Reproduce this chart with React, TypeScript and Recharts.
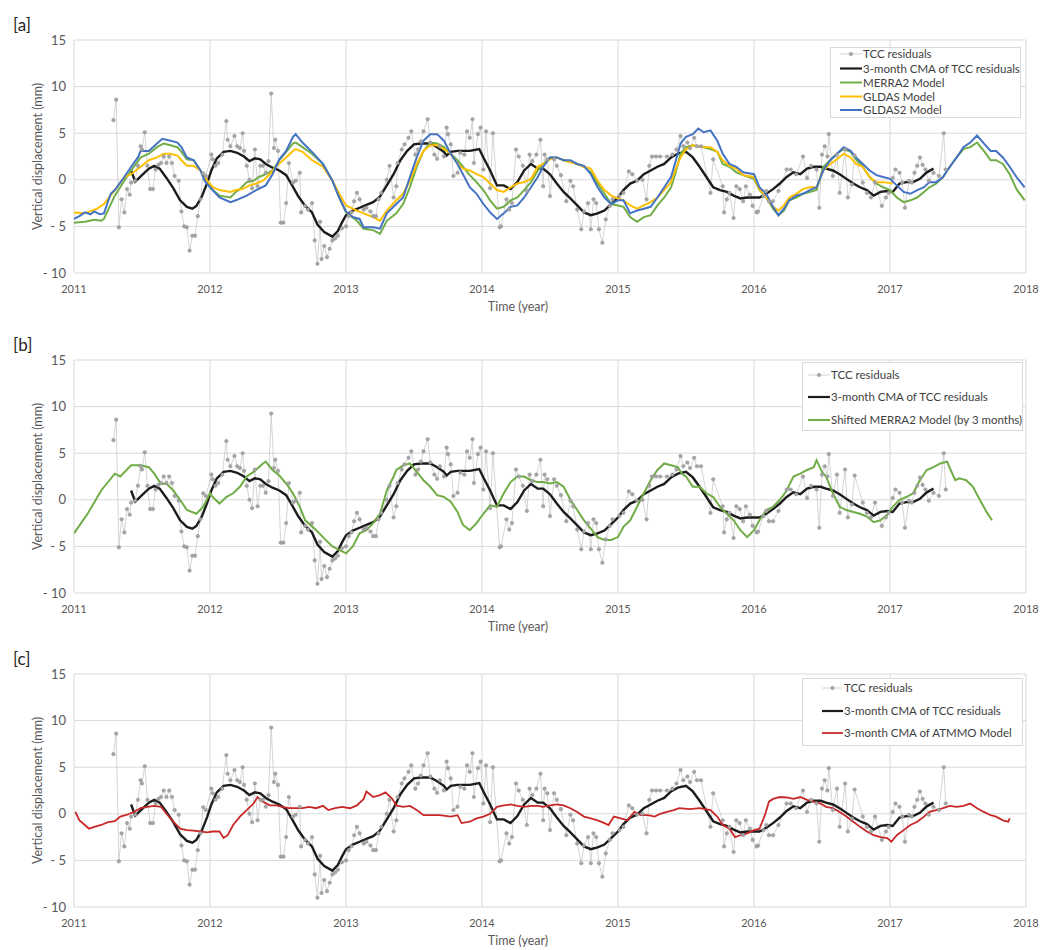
import React from "react";
import { CartesianGrid, Line, LineChart, XAxis, YAxis } from "recharts";

type Pt = [number, number];

const yearTicks = [2011, 2012, 2013, 2014, 2015, 2016, 2017, 2018];
const valueTicks = [-10, -5, 0, 5, 10, 15];

// weekly-ish TCC residuals (mm)
const tccResiduals: Pt[] = [
  [2011.29, 6.4], [2011.31, 8.6], [2011.33, -5.1], [2011.35, -2.1], [2011.37, -3.5], [2011.39, -1.0],
  [2011.41, -1.6], [2011.42, -0.3], [2011.45, -0.1], [2011.47, 1.5], [2011.49, 3.6], [2011.5, 3.25],
  [2011.52, 5.1], [2011.54, 1.5], [2011.56, -1.0], [2011.58, -1.0], [2011.6, 1.1], [2011.62, 1.6],
  [2011.64, 1.8], [2011.66, 2.5], [2011.68, 1.8], [2011.7, 2.5], [2011.72, 1.8], [2011.74, 0.4],
  [2011.77, -0.1], [2011.79, -3.4], [2011.81, -5.0], [2011.83, -5.1], [2011.85, -7.6], [2011.87, -6.0],
  [2011.89, -6.0], [2011.91, -3.9], [2011.93, -2.1], [2011.95, 0.7], [2011.97, 0.4], [2012.01, 2.7],
  [2012.02, 2.2], [2012.04, 1.5], [2012.06, 1.8], [2012.09, 2.7], [2012.12, 6.3], [2012.13, 4.3],
  [2012.15, 3.6], [2012.18, 4.7], [2012.2, 3.6], [2012.22, 3.4], [2012.24, 5.0], [2012.25, 3.1],
  [2012.27, 1.5], [2012.29, 0.0], [2012.31, -0.9], [2012.33, 3.25], [2012.35, -0.7], [2012.37, 1.5],
  [2012.39, 1.5], [2012.41, 0.75], [2012.43, 2.0], [2012.45, 9.25], [2012.47, 3.4], [2012.48, 4.3],
  [2012.5, 3.1], [2012.52, -4.6], [2012.54, -4.6], [2012.56, -2.5], [2012.58, 1.8], [2012.61, -0.3],
  [2012.63, -0.1], [2012.66, 0.75], [2012.67, -3.5], [2012.7, -2.8], [2012.72, -3.2], [2012.75, -2.5],
  [2012.77, -6.5], [2012.79, -9.0], [2012.81, -4.5], [2012.82, -8.5], [2012.84, -7.1], [2012.86, -8.3],
  [2012.88, -7.4], [2012.9, -6.5], [2012.92, -6.3], [2012.94, -6.0], [2012.97, -5.2], [2013.0, -5.0],
  [2013.02, -3.9], [2013.04, -3.5], [2013.06, -2.3], [2013.08, -1.4], [2013.1, -2.1], [2013.13, -3.2],
  [2013.15, -3.0], [2013.18, -3.4], [2013.2, -3.9], [2013.22, -3.9], [2013.24, -2.1], [2013.26, -1.4],
  [2013.3, 0.0], [2013.32, 1.5], [2013.35, -1.9], [2013.37, -0.7], [2013.38, 1.8], [2013.41, 3.25],
  [2013.43, 3.8], [2013.46, 4.5], [2013.48, 5.2], [2013.51, 2.7], [2013.53, 3.25], [2013.55, 4.1],
  [2013.57, 5.2], [2013.6, 6.5], [2013.62, 4.0], [2013.65, 2.7], [2013.67, 2.25], [2013.69, 3.6],
  [2013.72, 2.5], [2013.74, 5.6], [2013.75, 4.9], [2013.77, 3.8], [2013.79, 0.4], [2013.82, 0.75],
  [2013.84, 2.9], [2013.87, 2.7], [2013.89, 5.2], [2013.91, 4.5], [2013.93, 6.5], [2013.94, 1.8],
  [2013.97, 4.9], [2013.99, 5.6], [2014.01, 1.1], [2014.03, 5.2], [2014.06, -0.9], [2014.08, 5.0],
  [2014.13, -5.1], [2014.14, -5.0], [2014.18, -2.1], [2014.2, -3.2], [2014.22, -2.5], [2014.25, 3.25],
  [2014.27, 2.5], [2014.3, 1.5], [2014.33, -1.2], [2014.35, 2.7], [2014.37, 2.0], [2014.4, 2.7],
  [2014.43, 4.3], [2014.45, -0.7], [2014.46, 2.7], [2014.48, 2.2], [2014.5, -1.75], [2014.53, 2.2],
  [2014.55, 1.5], [2014.58, 0.5], [2014.62, -2.3], [2014.65, -0.1], [2014.67, -0.7], [2014.7, -3.2],
  [2014.73, -5.3], [2014.75, -3.4], [2014.78, -2.5], [2014.8, -5.3], [2014.82, -2.1], [2014.84, -2.5],
  [2014.86, -5.3], [2014.885, -6.75], [2014.91, -4.25], [2014.94, -2.8], [2014.96, -2.1], [2015.01, -1.75],
  [2015.04, -1.4], [2015.08, 0.9], [2015.105, 0.6], [2015.14, -0.1], [2015.18, 0.0], [2015.21, -2.1],
  [2015.23, 1.5], [2015.25, 2.5], [2015.28, 2.5], [2015.31, 2.5], [2015.36, 2.5], [2015.4, 2.7],
  [2015.43, 3.25], [2015.46, 4.7], [2015.48, 3.6], [2015.51, 4.0], [2015.53, 3.4], [2015.56, 4.5],
  [2015.58, 3.6], [2015.61, 3.6], [2015.68, -1.4], [2015.7, 2.2], [2015.77, -0.7], [2015.78, -3.5],
  [2015.8, -2.1], [2015.82, -1.4], [2015.85, -4.1], [2015.87, -0.7], [2015.895, -1.0], [2015.92, -2.3],
  [2015.94, -0.7], [2015.97, -1.6], [2015.99, -2.8], [2016.02, -3.5], [2016.03, -3.4], [2016.07, -1.75],
  [2016.09, -1.2], [2016.11, -2.3], [2016.14, -2.3], [2016.18, -1.2], [2016.24, 1.1], [2016.27, 1.1],
  [2016.31, 0.6], [2016.36, 2.5], [2016.39, 0.2], [2016.42, 1.5], [2016.46, 1.1], [2016.48, -3.0],
  [2016.5, 2.7], [2016.52, 3.6], [2016.54, 2.5], [2016.55, 4.9], [2016.58, 0.4], [2016.61, 2.7],
  [2016.63, -1.4], [2016.67, 3.25], [2016.69, -1.9], [2016.72, -0.5], [2016.74, 2.6], [2016.8, -0.3],
  [2016.83, -1.4], [2016.86, -1.9], [2016.89, -0.3], [2016.94, -2.8], [2016.97, -1.9], [2016.99, -1.4],
  [2017.02, 0.2], [2017.04, 1.1], [2017.07, 0.75], [2017.09, -0.3], [2017.11, -3.0], [2017.14, -0.1],
  [2017.16, -0.3], [2017.18, 0.75], [2017.2, 1.5], [2017.22, 2.4], [2017.24, 1.6], [2017.26, 1.1],
  [2017.285, -0.1], [2017.32, 0.75], [2017.36, 0.4], [2017.395, 5.0], [2017.41, 1.1],
];

const cmaResiduals: Pt[] = [
  [2011.42, 1.0], [2011.45, -0.2], [2011.5, 0.5], [2011.55, 1.2], [2011.59, 1.5], [2011.63, 1.2],
  [2011.68, 0.2], [2011.73, -0.9], [2011.78, -2.2], [2011.83, -2.9], [2011.87, -3.1], [2011.9, -2.8],
  [2011.94, -1.8], [2011.98, -0.3], [2012.01, 1.0], [2012.05, 2.3], [2012.1, 3.0], [2012.15, 3.1],
  [2012.2, 2.9], [2012.25, 2.5], [2012.29, 2.0], [2012.33, 2.3], [2012.37, 2.2], [2012.41, 1.7],
  [2012.46, 1.3], [2012.51, 1.0], [2012.56, 0.5], [2012.6, -0.5], [2012.65, -1.8], [2012.7, -2.8],
  [2012.75, -3.5], [2012.79, -4.8], [2012.84, -5.6], [2012.9, -6.1], [2012.94, -5.5], [2012.97, -4.6],
  [2013.0, -3.8], [2013.05, -3.3], [2013.1, -3.0], [2013.15, -2.7], [2013.2, -2.4], [2013.25, -1.8],
  [2013.3, -0.6], [2013.35, 0.6], [2013.4, 2.1], [2013.45, 3.1], [2013.5, 3.8], [2013.55, 3.9],
  [2013.62, 3.9], [2013.67, 3.5], [2013.72, 3.0], [2013.74, 2.6], [2013.77, 3.0], [2013.82, 3.1],
  [2013.86, 3.1], [2013.91, 3.1], [2013.98, 3.3], [2014.01, 2.4], [2014.06, 1.0], [2014.11, -0.6],
  [2014.16, -0.6], [2014.21, -1.0], [2014.26, -0.25], [2014.31, 1.0], [2014.36, 1.7], [2014.41, 1.2],
  [2014.45, 1.2], [2014.5, 0.6], [2014.55, -0.4], [2014.6, -1.3], [2014.65, -2.0], [2014.7, -2.75],
  [2014.75, -3.5], [2014.8, -3.8], [2014.85, -3.6], [2014.9, -3.3], [2014.95, -2.6], [2015.0, -1.9],
  [2015.04, -1.1], [2015.09, -0.4], [2015.14, -0.1], [2015.19, 0.6], [2015.24, 1.0], [2015.29, 1.4],
  [2015.34, 1.7], [2015.39, 2.4], [2015.44, 2.8], [2015.5, 3.0], [2015.55, 2.4], [2015.6, 1.4],
  [2015.65, 0.3], [2015.7, -0.8], [2015.75, -1.1], [2015.8, -1.3], [2015.85, -1.7], [2015.9, -2.0],
  [2015.95, -1.9], [2016.0, -1.9], [2016.04, -1.9], [2016.09, -1.5], [2016.14, -1.0], [2016.19, -0.4],
  [2016.24, 0.3], [2016.29, 0.8], [2016.34, 0.6], [2016.39, 1.2], [2016.44, 1.4], [2016.49, 1.4],
  [2016.53, 1.2], [2016.58, 1.0], [2016.63, 0.6], [2016.68, 0.1], [2016.73, -0.4], [2016.78, -0.8],
  [2016.83, -1.1], [2016.88, -1.7], [2016.93, -1.3], [2016.98, -1.2], [2017.02, -1.3], [2017.07, -0.4],
  [2017.12, -0.25], [2017.17, -0.25], [2017.22, 0.1], [2017.27, 0.8], [2017.32, 1.2],
];

const merra2: Pt[] = [
  [2011.0, -4.6], [2011.08, -4.5], [2011.15, -4.3], [2011.2, -4.4], [2011.22, -4.2], [2011.3, -1.7],
  [2011.37, -0.1], [2011.42, 1.0], [2011.49, 2.4], [2011.55, 2.8], [2011.61, 3.5], [2011.66, 3.9],
  [2011.71, 3.7], [2011.76, 3.5], [2011.79, 3.0], [2011.83, 2.2], [2011.88, 2.1], [2011.93, 1.0],
  [2011.98, -0.25], [2012.02, -1.1], [2012.07, -1.7], [2012.15, -1.9], [2012.19, -1.3], [2012.22, -1.0],
  [2012.27, -0.25], [2012.32, -0.1], [2012.36, 0.3], [2012.41, 0.6], [2012.46, 1.0], [2012.51, 2.1],
  [2012.56, 3.0], [2012.61, 3.9], [2012.63, 4.0], [2012.68, 3.5], [2012.75, 2.8], [2012.83, 1.7],
  [2012.9, -0.1], [2012.95, -1.9], [2013.0, -3.5], [2013.08, -4.4], [2013.13, -5.25], [2013.2, -5.4],
  [2013.25, -5.8], [2013.3, -4.4], [2013.37, -3.6], [2013.42, -2.6], [2013.47, -0.8], [2013.52, 1.4],
  [2013.57, 3.1], [2013.62, 4.0], [2013.67, 3.9], [2013.72, 3.5], [2013.77, 2.8], [2013.82, 2.1],
  [2013.86, 1.4], [2013.91, 0.5], [2013.96, -0.25], [2014.01, -1.1], [2014.06, -2.2], [2014.11, -3.1],
  [2014.16, -2.9], [2014.21, -2.2], [2014.26, -1.9], [2014.31, -1.1], [2014.36, -0.25], [2014.41, 1.0],
  [2014.45, 1.7], [2014.5, 2.4], [2014.55, 2.4], [2014.6, 2.1], [2014.65, 1.9], [2014.7, 1.7],
  [2014.75, 1.4], [2014.8, 0.8], [2014.85, -0.4], [2014.9, -1.5], [2014.95, -2.6], [2015.0, -2.75],
  [2015.04, -2.9], [2015.09, -4.0], [2015.14, -4.5], [2015.19, -4.0], [2015.24, -3.8], [2015.29, -2.75],
  [2015.34, -1.9], [2015.39, -0.8], [2015.42, 0.6], [2015.46, 2.8], [2015.5, 3.5], [2015.55, 3.7],
  [2015.63, 3.5], [2015.68, 3.3], [2015.73, 3.0], [2015.77, 1.7], [2015.82, 1.4], [2015.87, 0.8],
  [2015.92, 0.5], [2016.0, 0.1], [2016.04, -1.1], [2016.09, -1.9], [2016.14, -3.1], [2016.18, -3.8],
  [2016.22, -3.3], [2016.26, -2.2], [2016.31, -1.9], [2016.36, -1.5], [2016.41, -1.3], [2016.46, -1.1],
  [2016.51, 1.4], [2016.56, 2.1], [2016.61, 2.8], [2016.66, 3.3], [2016.71, 3.0], [2016.75, 2.2],
  [2016.8, 1.4], [2016.85, 0.3], [2016.9, -0.4], [2016.95, -0.8], [2017.0, -1.1], [2017.05, -1.9],
  [2017.1, -2.4], [2017.15, -2.2], [2017.2, -1.9], [2017.25, -1.3], [2017.29, -0.8], [2017.34, -0.4],
  [2017.39, 0.3], [2017.44, 1.4], [2017.49, 2.4], [2017.54, 3.3], [2017.59, 3.5], [2017.64, 4.0],
  [2017.69, 3.1], [2017.74, 2.1], [2017.78, 2.1], [2017.83, 1.7], [2017.88, 0.6], [2017.93, -1.0],
  [2017.99, -2.2],
];

const gldas: Pt[] = [
  [2011.0, -3.5], [2011.08, -3.6], [2011.17, -3.1], [2011.22, -2.6], [2011.3, -1.1], [2011.37, 0.3],
  [2011.42, 0.6], [2011.49, 1.4], [2011.55, 2.1], [2011.61, 2.4], [2011.66, 2.8], [2011.71, 2.8],
  [2011.76, 2.6], [2011.79, 2.1], [2011.83, 1.5], [2011.88, 1.5], [2011.93, 1.0], [2011.98, -0.1],
  [2012.02, -0.8], [2012.07, -1.1], [2012.15, -1.3], [2012.19, -1.1], [2012.24, -1.0], [2012.29, -0.6],
  [2012.34, -0.4], [2012.39, -0.1], [2012.44, 0.6], [2012.49, 1.5], [2012.56, 2.4], [2012.61, 3.1],
  [2012.63, 3.3], [2012.68, 3.0], [2012.75, 2.1], [2012.83, 1.4], [2012.9, -0.1], [2012.95, -1.5],
  [2013.0, -2.75], [2013.08, -3.3], [2013.13, -3.6], [2013.2, -4.0], [2013.25, -4.4], [2013.3, -3.3],
  [2013.37, -2.2], [2013.42, -1.5], [2013.47, -0.1], [2013.52, 1.7], [2013.57, 3.1], [2013.62, 3.7],
  [2013.67, 3.7], [2013.72, 3.3], [2013.77, 2.8], [2013.82, 1.7], [2013.86, 1.2], [2013.91, 1.0],
  [2013.96, 0.6], [2014.01, 0.3], [2014.06, -0.4], [2014.11, -1.1], [2014.16, -1.3], [2014.21, -0.8],
  [2014.26, -0.4], [2014.31, -0.25], [2014.36, 0.1], [2014.41, 1.4], [2014.45, 1.7], [2014.5, 2.2],
  [2014.55, 2.4], [2014.6, 2.1], [2014.65, 1.9], [2014.7, 1.7], [2014.75, 1.4], [2014.8, 1.2],
  [2014.85, -0.1], [2014.9, -1.1], [2014.95, -1.7], [2015.0, -2.0], [2015.04, -2.2], [2015.09, -2.75],
  [2015.14, -3.1], [2015.19, -2.75], [2015.24, -2.4], [2015.29, -1.9], [2015.34, -1.1], [2015.39, -0.25],
  [2015.42, 1.0], [2015.46, 2.4], [2015.5, 3.3], [2015.55, 3.7], [2015.63, 3.5], [2015.68, 3.5],
  [2015.73, 3.0], [2015.77, 2.1], [2015.82, 1.5], [2015.87, 1.2], [2015.92, 0.5], [2016.0, 0.3],
  [2016.04, -1.0], [2016.09, -1.9], [2016.14, -2.9], [2016.18, -3.3], [2016.22, -2.75], [2016.26, -1.9],
  [2016.31, -1.5], [2016.36, -1.0], [2016.41, -0.8], [2016.46, -0.8], [2016.51, 1.0], [2016.56, 1.7],
  [2016.61, 2.2], [2016.66, 2.8], [2016.71, 2.4], [2016.75, 1.7], [2016.8, 1.4], [2016.85, 0.3],
  [2016.9, -0.25], [2016.95, -0.25], [2017.02, -0.4],
];

const gldas2: Pt[] = [
  [2011.0, -4.2], [2011.04, -3.9], [2011.08, -3.5], [2011.12, -3.7], [2011.15, -3.4], [2011.19, -3.7],
  [2011.22, -3.6], [2011.27, -1.5], [2011.3, -1.1], [2011.37, 0.3], [2011.42, 1.4], [2011.47, 2.4],
  [2011.49, 3.1], [2011.55, 3.1], [2011.61, 3.9], [2011.65, 4.4], [2011.71, 4.2], [2011.76, 4.0],
  [2011.79, 3.5], [2011.83, 2.4], [2011.88, 2.1], [2011.93, 1.0], [2011.96, -0.1], [2012.0, -0.8],
  [2012.07, -1.9], [2012.15, -2.4], [2012.19, -2.2], [2012.27, -1.7], [2012.34, -1.1], [2012.41, -0.6],
  [2012.46, 0.6], [2012.51, 2.2], [2012.56, 3.1], [2012.61, 4.6], [2012.63, 4.9], [2012.68, 4.0],
  [2012.75, 3.0], [2012.83, 1.7], [2012.9, -0.1], [2012.95, -1.9], [2013.0, -3.4], [2013.05, -4.0],
  [2013.1, -4.2], [2013.13, -5.1], [2013.2, -5.1], [2013.25, -5.25], [2013.3, -3.6], [2013.37, -2.6],
  [2013.42, -1.9], [2013.47, 0.3], [2013.52, 2.4], [2013.57, 4.2], [2013.62, 4.9], [2013.67, 4.9],
  [2013.72, 4.2], [2013.77, 2.8], [2013.82, 1.7], [2013.86, 0.6], [2013.91, -0.8], [2013.96, -1.5],
  [2014.01, -2.6], [2014.06, -3.5], [2014.11, -4.2], [2014.16, -3.6], [2014.21, -2.9], [2014.26, -2.75],
  [2014.31, -1.9], [2014.36, -0.8], [2014.41, 0.3], [2014.45, 1.4], [2014.5, 2.4], [2014.55, 2.4],
  [2014.6, 2.1], [2014.65, 2.1], [2014.7, 1.7], [2014.75, 1.5], [2014.8, 0.6], [2014.85, -0.8],
  [2014.9, -1.9], [2014.95, -2.6], [2015.0, -2.2], [2015.04, -2.2], [2015.09, -3.6], [2015.14, -3.3],
  [2015.19, -3.1], [2015.24, -2.9], [2015.29, -1.9], [2015.34, -0.8], [2015.39, 0.3], [2015.42, 1.8],
  [2015.46, 3.9], [2015.5, 4.6], [2015.55, 4.9], [2015.59, 5.5], [2015.63, 5.1], [2015.68, 5.3],
  [2015.73, 4.2], [2015.77, 2.8], [2015.82, 1.7], [2015.87, 1.4], [2015.92, 0.8], [2016.0, 0.6],
  [2016.04, -0.8], [2016.09, -1.5], [2016.14, -2.9], [2016.18, -3.8], [2016.22, -3.1], [2016.26, -2.2],
  [2016.31, -1.7], [2016.36, -1.5], [2016.41, -1.1], [2016.46, -0.8], [2016.51, 1.0], [2016.56, 2.1],
  [2016.61, 2.8], [2016.66, 3.5], [2016.71, 3.1], [2016.75, 2.4], [2016.8, 1.7], [2016.85, 1.0],
  [2016.9, 0.5], [2016.95, 0.3], [2017.0, 0.1], [2017.05, -0.6], [2017.1, -1.3], [2017.15, -1.5],
  [2017.2, -1.1], [2017.25, -0.8], [2017.29, -0.25], [2017.34, -0.25], [2017.39, 0.3], [2017.44, 1.4],
  [2017.49, 2.4], [2017.54, 3.5], [2017.59, 4.0], [2017.64, 4.75], [2017.69, 3.9], [2017.74, 3.1],
  [2017.78, 3.1], [2017.83, 2.4], [2017.88, 1.4], [2017.93, 0.3], [2017.99, -0.8],
];

const merra2Shifted: Pt[] = [
  [2011.0, -3.6], [2011.1, -1.5], [2011.2, 1.0], [2011.3, 2.8], [2011.34, 2.5], [2011.42, 3.7],
  [2011.49, 3.7], [2011.55, 3.5], [2011.59, 2.8], [2011.64, 1.7], [2011.68, 1.75], [2011.73, 1.0],
  [2011.78, 0.0], [2011.83, -1.1], [2011.9, -1.5], [2011.95, -0.75], [2012.0, 0.7], [2012.02, 0.3],
  [2012.07, -0.4], [2012.12, 0.3], [2012.17, 0.7], [2012.22, 1.4], [2012.27, 2.5], [2012.32, 3.0],
  [2012.39, 3.9], [2012.41, 4.1], [2012.46, 3.2], [2012.51, 2.6], [2012.56, 1.75], [2012.61, 0.7],
  [2012.66, -0.75], [2012.7, -2.2], [2012.78, -3.25], [2012.85, -4.3], [2012.9, -5.0], [2013.0, -5.75],
  [2013.05, -5.0], [2013.1, -3.6], [2013.15, -3.25], [2013.2, -2.5], [2013.25, -1.5], [2013.3, 1.0],
  [2013.35, 2.5], [2013.37, 3.2], [2013.42, 3.7], [2013.47, 3.9], [2013.52, 3.0], [2013.57, 2.1],
  [2013.62, 1.4], [2013.67, 0.5], [2013.72, 0.3], [2013.77, -0.2], [2013.82, -1.3], [2013.86, -2.7],
  [2013.91, -3.25], [2013.96, -2.5], [2014.01, -1.5], [2014.06, -0.6], [2014.11, -0.75], [2014.16, 0.7],
  [2014.21, 1.9], [2014.26, 2.5], [2014.31, 2.5], [2014.36, 2.1], [2014.41, 1.9], [2014.45, 1.9],
  [2014.5, 1.75], [2014.55, 1.9], [2014.6, 1.4], [2014.65, 0.0], [2014.7, -1.1], [2014.75, -2.2],
  [2014.8, -3.1], [2014.85, -4.0], [2014.9, -4.3], [2014.95, -4.3], [2015.0, -4.0], [2015.04, -2.9],
  [2015.09, -2.2], [2015.14, -0.75], [2015.19, 0.7], [2015.24, 2.1], [2015.29, 3.2], [2015.34, 3.9],
  [2015.39, 3.7], [2015.44, 3.5], [2015.47, 2.8], [2015.5, 2.5], [2015.55, 1.4], [2015.6, 1.4],
  [2015.65, 0.7], [2015.7, 0.3], [2015.75, -0.75], [2015.8, -1.5], [2015.85, -2.2], [2015.9, -3.25],
  [2015.95, -4.0], [2016.0, -3.25], [2016.04, -2.2], [2016.09, -1.1], [2016.14, -0.75], [2016.19, 0.0],
  [2016.24, 1.0], [2016.29, 2.5], [2016.34, 2.8], [2016.39, 3.2], [2016.44, 3.5], [2016.46, 4.25],
  [2016.5, 3.0], [2016.53, 2.5], [2016.58, 0.7], [2016.63, -0.75], [2016.68, -1.1], [2016.73, -1.3],
  [2016.78, -1.5], [2016.83, -1.8], [2016.88, -2.4], [2016.93, -2.2], [2016.98, -1.6], [2017.02, -0.75],
  [2017.07, 0.0], [2017.12, 0.3], [2017.17, 0.7], [2017.22, 2.1], [2017.27, 3.2], [2017.32, 3.5],
  [2017.37, 3.9], [2017.42, 4.1], [2017.44, 3.4], [2017.48, 2.1], [2017.51, 2.3], [2017.56, 2.1],
  [2017.61, 1.4], [2017.66, 0.0], [2017.71, -1.3], [2017.75, -2.2],
];

const atmmoCma: Pt[] = [
  [2011.01, 0.2], [2011.04, -0.7], [2011.08, -1.2], [2011.11, -1.6], [2011.15, -1.4], [2011.2, -1.2],
  [2011.25, -0.9], [2011.3, -0.8], [2011.34, -0.3], [2011.39, -0.1], [2011.44, 0.2], [2011.49, 0.6],
  [2011.54, 0.75], [2011.59, 0.85], [2011.64, 0.75], [2011.68, 0.0], [2011.73, -0.85], [2011.78, -1.6],
  [2011.83, -1.75], [2011.88, -1.8], [2011.93, -1.9], [2011.98, -2.0], [2012.02, -1.9], [2012.07, -1.9],
  [2012.1, -2.6], [2012.13, -2.3], [2012.17, -1.2], [2012.22, -0.3], [2012.27, 0.4], [2012.32, 1.1],
  [2012.35, 1.8], [2012.39, 1.3], [2012.44, 0.9], [2012.49, 0.9], [2012.53, 0.75], [2012.58, 0.6],
  [2012.63, 0.6], [2012.68, 0.6], [2012.73, 0.75], [2012.78, 0.6], [2012.83, 0.85], [2012.87, 0.4],
  [2012.92, 0.6], [2012.97, 0.75], [2013.03, 0.6], [2013.08, 0.9], [2013.13, 1.6], [2013.15, 2.4],
  [2013.2, 1.8], [2013.25, 2.0], [2013.29, 2.3], [2013.34, 1.6], [2013.37, 0.9], [2013.42, 0.75],
  [2013.47, 0.85], [2013.52, 0.4], [2013.57, -0.15], [2013.62, -0.15], [2013.69, -0.15], [2013.77, -0.3],
  [2013.82, -0.15], [2013.85, -1.0], [2013.91, -0.85], [2013.96, -0.5], [2014.01, -0.3], [2014.06, 0.0],
  [2014.11, 0.75], [2014.16, 0.9], [2014.21, 1.0], [2014.26, 0.85], [2014.31, 0.75], [2014.36, 0.85],
  [2014.41, 0.85], [2014.45, 0.75], [2014.5, 0.9], [2014.55, 1.0], [2014.6, 0.9], [2014.65, 0.6],
  [2014.7, 0.2], [2014.75, -0.3], [2014.8, -0.5], [2014.85, -0.7], [2014.9, -1.0], [2014.93, -1.2],
  [2014.97, -0.3], [2015.02, -0.5], [2015.07, -0.7], [2015.12, 0.2], [2015.17, -0.15], [2015.22, -0.15],
  [2015.27, -0.3], [2015.31, 0.0], [2015.36, 0.2], [2015.41, 0.4], [2015.45, 0.6], [2015.53, 0.5],
  [2015.6, 0.6], [2015.68, 0.4], [2015.73, -0.3], [2015.77, -1.2], [2015.82, -1.6], [2015.86, -2.5],
  [2015.9, -2.3], [2015.95, -2.1], [2016.0, -1.75], [2016.04, -1.6], [2016.08, -0.15], [2016.11, 1.3],
  [2016.14, 1.6], [2016.19, 1.8], [2016.24, 1.75], [2016.29, 1.6], [2016.34, 1.8], [2016.39, 1.5],
  [2016.44, 1.3], [2016.49, 1.1], [2016.53, 0.75], [2016.58, 0.6], [2016.63, 0.2], [2016.68, -0.3],
  [2016.73, -0.85], [2016.78, -1.4], [2016.83, -1.9], [2016.88, -2.3], [2016.93, -2.5], [2016.98, -2.6],
  [2017.01, -3.0], [2017.05, -2.3], [2017.1, -1.75], [2017.15, -1.2], [2017.2, -0.85], [2017.25, -0.3],
  [2017.29, 0.2], [2017.34, 0.4], [2017.39, 0.6], [2017.44, 0.85], [2017.49, 0.75], [2017.54, 0.85],
  [2017.59, 1.1], [2017.64, 0.6], [2017.69, 0.2], [2017.74, -0.15], [2017.78, -0.3], [2017.83, -0.7],
  [2017.87, -0.85], [2017.88, -0.5],
];

const toRows = (pts: Pt[]) => pts.map(([x, y]) => ({ x, y }));

type Series = { name: string; data: Pt[]; color: string; width: number; dots?: boolean };

const tccSeries: Series = { name: "TCC residuals", data: tccResiduals, color: "#c9c9c9", width: 0.8, dots: true };
const cmaSeries: Series = { name: "3-month CMA of TCC residuals", data: cmaResiduals, color: "#1c1c1c", width: 2.4 };

const FONT = "Lato, 'Open Sans', sans-serif";
const TEXT = "#595959";

type LegendGeom = { x: number; y: number; w: number; h: number; rows: number[]; lineX: number; lineW: number; textX: number };

function LegendBox({ series, g }: { series: Series[]; g: LegendGeom }) {
  return (
    <svg style={{ position: "absolute", left: 0, top: 0 }} width={1049} height={318}>
      <rect x={g.x + 0.5} y={g.y + 0.5} width={g.w} height={g.h} fill="#fff" stroke="#d9d9d9" />
      {series.map((s, i) => {
        const cy = g.rows[i];
        return (
          <g key={s.name}>
            <line x1={g.lineX} x2={g.lineX + g.lineW} y1={cy} y2={cy} stroke={s.color} strokeWidth={s.dots ? 0.8 : Math.min(s.width, 2.2)} />
            {s.dots && <circle cx={g.lineX + g.lineW / 2} cy={cy} r={1.8} fill="#a6a6a6" stroke="#8c8c8c" strokeWidth={0.4} />}
            <text x={g.textX} y={cy} dy="0.35em" fontSize={11.5} fill="#404040" fontFamily={FONT}>
              {s.name}
            </text>
          </g>
        );
      })}
    </svg>
  );
}

function Panel({ tag, series, legend }: { tag: string; series: Series[]; legend: LegendGeom }) {
  return (
    <div style={{ position: "relative", width: 1049, height: 318 }}>
      <LineChart width={1049} height={318} margin={{ top: 40, right: 23, bottom: 0, left: 0 }}>
        <CartesianGrid stroke="#d9d9d9" strokeWidth={1} />
        <XAxis
          type="number"
          dataKey="x"
          domain={[2011, 2018]}
          ticks={yearTicks}
          allowDataOverflow
          height={45}
          axisLine={false}
          tickLine={false}
          tickSize={0}
          tickMargin={12}
          tick={{ fill: TEXT, fontSize: 11, fontFamily: FONT }}
        />
        <YAxis
          type="number"
          dataKey="y"
          domain={[-10, 15]}
          ticks={valueTicks}
          allowDataOverflow
          width={74}
          axisLine={false}
          tickLine={false}
          tickSize={0}
          tickMargin={8}
          tick={{ fill: TEXT, fontSize: 13, fontFamily: FONT }}
          tickFormatter={(v: number) => (v < 0 ? `- ${Math.abs(v)}` : `${v}`)}
          label={{
            value: "Vertical displacement (mm)",
            angle: -90,
            position: "insideLeft",
            offset: 38,
            style: { textAnchor: "middle", fill: TEXT, fontSize: 12.5, fontFamily: FONT },
          }}
        />
        {series.map((s) => (
          <Line
            key={s.name}
            name={s.name}
            data={toRows(s.data)}
            dataKey="y"
            type="linear"
            stroke={s.color}
            strokeWidth={s.width}
            dot={s.dots ? { r: 1.8, fill: "#a6a6a6", stroke: "#8c8c8c", strokeWidth: 0.4 } : false}
            activeDot={false}
            isAnimationActive={false}
          />
        ))}
      </LineChart>
      <div style={{ position: "absolute", left: 13, top: 14, fontSize: 17, color: "#262626", fontFamily: FONT }}>{tag}</div>
      <div
        style={{
          position: "absolute",
          left: 518,
          top: 299,
          transform: "translateX(-50%)",
          fontSize: 12.5,
          color: TEXT,
          fontFamily: FONT,
          whiteSpace: "nowrap",
        }}
      >
        Time (year)
      </div>
      <LegendBox series={series} g={legend} />
    </div>
  );
}

const panelA: Series[] = [
  tccSeries,
  cmaSeries,
  { name: "MERRA2 Model", data: merra2, color: "#70ad47", width: 2 },
  { name: "GLDAS Model", data: gldas, color: "#ffc000", width: 2 },
  { name: "GLDAS2 Model", data: gldas2, color: "#4472c4", width: 2 },
];

const panelB: Series[] = [
  tccSeries,
  cmaSeries,
  { name: "Shifted MERRA2 Model (by 3 months)", data: merra2Shifted, color: "#70ad47", width: 2 },
];

const panelC: Series[] = [
  tccSeries,
  cmaSeries,
  { name: "3-month CMA of ATMMO Model", data: atmmoCma, color: "#c82828", width: 1.8 },
];

export default function App() {
  return (
    <div style={{ position: "absolute", left: 0, top: 0, width: 1049, height: 950, background: "#fff", overflow: "hidden" }}>
      <div style={{ position: "absolute", left: 0, top: 0 }}>
        <Panel tag="[a]" series={panelA} legend={{ x: 830, y: 47, w: 190, h: 70, rows: [54, 68.5, 82.5, 96.5, 110], lineX: 840, lineW: 22, textX: 863 }} />
      </div>
      <div style={{ position: "absolute", left: 0, top: 320 }}>
        <Panel tag="[b]" series={panelB} legend={{ x: 802, y: 42, w: 220, h: 68, rows: [55, 77, 100], lineX: 808, lineW: 22, textX: 831 }} />
      </div>
      <div style={{ position: "absolute", left: 0, top: 634 }}>
        <Panel tag="[c]" series={panelC} legend={{ x: 802, y: 44, w: 220, h: 67, rows: [54, 77, 99], lineX: 822, lineW: 21, textX: 844 }} />
      </div>
    </div>
  );
}
